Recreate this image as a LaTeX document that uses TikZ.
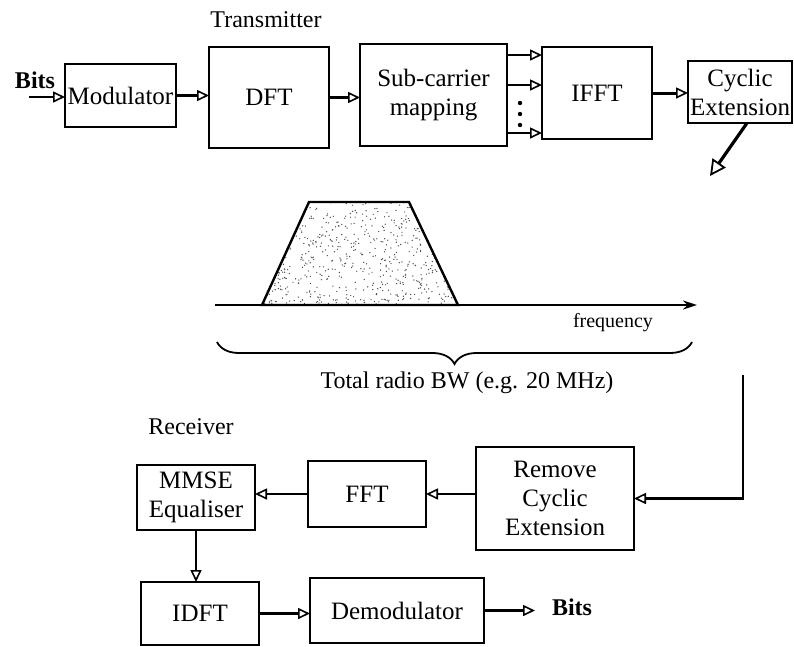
\documentclass[tikz,border=0pt]{standalone}
\usepackage{fontspec}
\setmainfont{Liberation Serif}
\usetikzlibrary{
    arrows.meta,
    decorations.pathreplacing,
    positioning
}

\begin{document}
\begin{tikzpicture}[
    x=1pt, y=-1pt,
    >={Triangle[open,length=12pt,width=11pt,line width=1.6pt]},
    blk/.style={draw, line width=1.8pt, inner sep=0pt, outer sep=0pt,
        align=center, font=\fontsize{25}{29}\selectfont},
    flow/.style={line width=2.4pt, ->},
    lbl/.style={font=\fontsize{24}{27}\selectfont}
]
    \useasboundingbox (0,0) rectangle (794,646);

    % 发射端
    \node[lbl] (tx) at (266,20) {Transmitter};
    \node[lbl, font=\bfseries\fontsize{24}{27}\selectfont] (bitsin) at (35,80) {Bits};
    \coordinate (in) at (29,97);
    \node[blk, minimum width=111, minimum height=63] (mod) at (120.5,95.5) {Modulator};
    \node[blk, minimum width=120, minimum height=101] (dft) at (269,97.5) {DFT};
    \node[blk, minimum width=147, minimum height=102] (sub) at (433.5,95) {Sub-carrier\\mapping};
    \node[blk, minimum width=110, minimum height=92] (ifft) at (597,93) {IFFT};
    \node[blk, minimum width=104, minimum height=62] (cyc) at (740,92) {Cyclic\\Extension};

    \draw[flow] (in) -- (in -| mod.west);
    \draw[flow] (mod.east) -- (mod.east -| dft.west);
    \draw[flow, line width=3pt] (dft.east) -- (dft.east -| sub.west);
    \draw[flow] ([yshift=40pt]sub.east) -- ([yshift=40pt]sub.east -| ifft.west);
    \draw[flow] ([yshift=10pt]sub.east) -- ([yshift=10pt]sub.east -| ifft.west);
    \draw[flow] ([yshift=-38pt]sub.east) -- ([yshift=-38pt]sub.east -| ifft.west);
    \foreach \yy in {103,114,125}
        \fill (520,\yy) circle[radius=2.2pt];
    \draw[flow, line width=3pt] (ifft.east) -- (ifft.east -| cyc.west);
    \coordinate (down) at (710,176);
    \draw[line width=3.2pt, -{Triangle[open,length=16pt,width=16pt,line width=1.8pt]}]
        ([xshift=7pt]cyc.south) -- (down);

    % 频谱
    \coordinate (p1) at (262,305);
    \coordinate (p2) at (309,202);
    \coordinate (p3) at (409,202);
    \coordinate (p4) at (458,305);
    \begin{scope}
        \clip (p1) -- (p2) -- (p3) -- (p4) -- cycle;
        \pgfmathsetseed{42}
        \foreach \i in {1,...,700}
            \fill[black!70] ({262+196*rnd},{202+103*rnd}) circle[radius=0.7pt];
    \end{scope}
    \draw[line width=2.4pt, line join=miter] (p1) -- (p2) -- (p3) -- (p4) -- cycle;
    \coordinate (f0) at (215,305);
    \coordinate (f1) at (697,305);
    \draw[line width=1.8pt, -{Stealth[length=14pt,width=9pt]}] (f0) -- (f1);
    \node[font=\fontsize{20}{22}\selectfont] (freq) at (613,323) {frequency};
    \coordinate (b0) at (217,342);
    \coordinate (b1) at (692,342);
    \draw[line width=1.8pt, decorate, decoration={brace, mirror, amplitude=22pt}] (b0) -- (b1);
    \node[lbl] (bw) at (467,383) {Total radio BW (e.g. 20 MHz)};

    % 接收端
    \node[lbl] (rx) at (191,427) {Receiver};
    \node[blk, minimum width=158, minimum height=103] (rem) at (555,498.5) {Remove\\Cyclic\\Extension};
    \node[blk, minimum width=118, minimum height=66] (fft) at (367,494) {FFT};
    \node[blk, minimum width=118, minimum height=65] (mmse) at (196,497.5) {MMSE\\Equaliser};
    \node[blk, minimum width=118, minimum height=63] (idft) at (200,613.5) {IDFT};
    \node[blk, minimum width=174, minimum height=65] (dem) at (397,610.5) {Demodulator};
    \node[lbl, font=\bfseries\fontsize{24}{27}\selectfont] (bitsout) at (572,607) {Bits};
    \coordinate (turn) at (743,375);
    \coordinate (out) at (535,610.5);

    \draw[flow] (turn) |- (rem.east);
    \draw[flow] (rem.west |- fft.east) -- (fft.east);
    \draw[flow] (fft.west) -- (fft.west -| mmse.east);
    \draw[flow] (mmse.south) -- (mmse.south |- idft.north);
    \draw[flow] (idft.east) -- (idft.east -| dem.west);
    \draw[flow] (dem.east) -- (out);
\end{tikzpicture}
\end{document}
